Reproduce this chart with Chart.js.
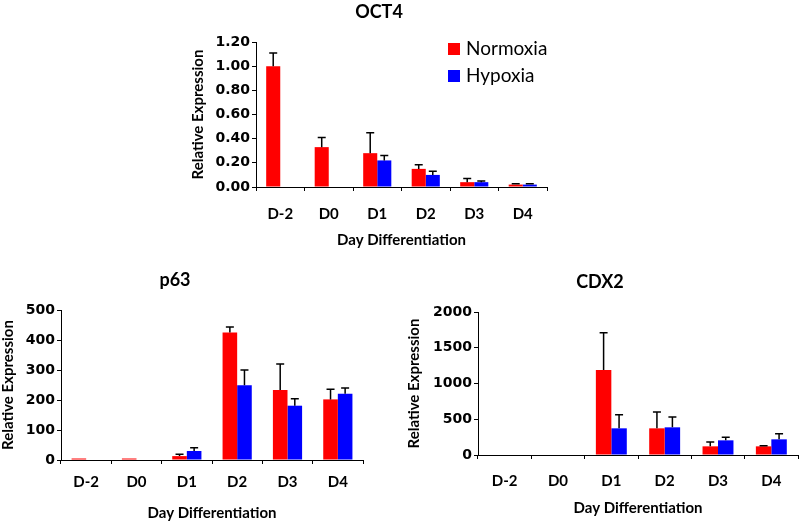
<!DOCTYPE html>
<html>
<head>
<meta charset="utf-8">
<script src="https://cdn.jsdelivr.net/npm/chart.js@4.4.1/dist/chart.umd.min.js"></script>
<style>
  html, body { margin: 0; padding: 0; background: #fff; overflow: hidden; }
  body { width: 800px; height: 522px; position: relative; }
  .box { position: absolute; }
</style>
</head>
<body>
<div class="box" id="oct4Box" style="left:180px; top:0px; width:380px; height:252px;"><canvas id="oct4Chart"></canvas></div>
<div class="box" id="p63Box" style="left:-13px; top:258px; width:380px; height:264px;"><canvas id="p63Chart"></canvas></div>
<div class="box" id="cdx2Box" style="left:402px; top:260px; width:398px; height:262px;"><canvas id="cdx2Chart"></canvas></div>
<script>
const days = ['D-2', 'D0', 'D1', 'D2', 'D3', 'D4'];

// OCT4 (mean and upper error)
const oct4Normoxia = [1.00, 0.33, 0.28, 0.15, 0.04, 0.02];
const oct4NormoxiaErr = [0.11, 0.08, 0.17, 0.035, 0.03, 0.006];
const oct4Hypoxia = [null, null, 0.22, 0.10, 0.04, 0.02];
const oct4HypoxiaErr = [null, null, 0.04, 0.03, 0.01, 0.006];
const oct4Ticks = [0, 0.2, 0.4, 0.6, 0.8, 1.0, 1.2];

// p63
const p63Normoxia = [5, 5, 13, 425, 233, 202];
const p63NormoxiaErr = [null, null, 6, 18, 87, 34];
const p63Hypoxia = [null, null, 30, 249, 181, 221];
const p63HypoxiaErr = [null, null, 11, 51, 23, 19];
const p63Ticks = [0, 100, 200, 300, 400, 500];

// CDX2
const cdx2Normoxia = [0, 0, 1190, 373, 121, 121];
const cdx2NormoxiaErr = [null, null, 520, 228, 61, 10];
const cdx2Hypoxia = [null, null, 373, 387, 205, 219];
const cdx2HypoxiaErr = [null, null, 191, 144, 42, 79];
const cdx2Ticks = [0, 500, 1000, 1500, 2000];

const RED = '#ff0000';
const BLUE = '#0000ff';

Chart.defaults.color = '#000';
Chart.defaults.font.family = 'Lato, "Open Sans", sans-serif';

// one-sided error bars with a small cap
const errorBars = {
    id: 'errorBars',
    afterDatasetsDraw(chart) {
        const { ctx } = chart;
        const yScale = chart.scales.y;
        chart.data.datasets.forEach((ds, i) => {
            if (!ds.errors) return;
            const meta = chart.getDatasetMeta(i);
            meta.data.forEach((bar, j) => {
                const v = ds.data[j];
                const e = ds.errors[j];
                if (v == null || e == null) return;
                const top = yScale.getPixelForValue(v + e);
                ctx.save();
                ctx.strokeStyle = '#000';
                ctx.lineWidth = 1.5;
                ctx.beginPath();
                ctx.moveTo(bar.x, bar.y);
                ctx.lineTo(bar.x, top);
                ctx.moveTo(bar.x - 4, top);
                ctx.lineTo(bar.x + 4, top);
                ctx.stroke();
                ctx.restore();
            });
        });
    }
};

// legend drawn inside the plot area (top right), like the original
const innerLegend = {
    id: 'innerLegend',
    afterDraw(chart, args, opts) {
        if (!opts.display) return;
        const { ctx, chartArea } = chart;
        const x0 = chartArea.right - 99;
        let y0 = chartArea.top + 1;
        ctx.save();
        ctx.font = '19px Lato, sans-serif';
        ctx.textBaseline = 'middle';
        ctx.textAlign = 'left';
        chart.data.datasets.forEach(ds => {
            ctx.fillStyle = ds.backgroundColor;
            ctx.fillRect(x0, y0, 12, 12);
            ctx.fillStyle = '#000';
            ctx.fillText(ds.label, x0 + 18, y0 + 6);
            y0 += 27;
        });
        ctx.restore();
    }
};

function makeChart(id, cfg) {
    const step = cfg.ticks[1] - cfg.ticks[0];
    return new Chart(document.getElementById(id), {
        type: 'bar',
        data: {
            labels: days,
            datasets: [
                { label: 'Normoxia', data: cfg.normoxia, errors: cfg.normoxiaErr, backgroundColor: RED },
                { label: 'Hypoxia', data: cfg.hypoxia, errors: cfg.hypoxiaErr, backgroundColor: BLUE }
            ]
        },
        options: {
            responsive: true,
            maintainAspectRatio: false,
            animation: false,
            categoryPercentage: 0.58,
            barPercentage: 1.0,
            layout: { padding: cfg.padding },
            plugins: {
                legend: { display: false },
                tooltip: { enabled: false },
                title: {
                    display: true,
                    text: cfg.title,
                    font: { size: 18, weight: 'bold' },
                    padding: cfg.titlePad
                },
                innerLegend: { display: !!cfg.legend }
            },
            scales: {
                x: {
                    grid: { drawOnChartArea: false, drawTicks: true, tickLength: 4, color: '#000' },
                    border: { color: '#000', width: 1 },
                    ticks: { font: { size: 15, weight: 'bold' }, padding: cfg.xTickPad, maxRotation: 0 },
                    title: {
                        display: true,
                        text: 'Day Differentiation',
                        font: { size: 15, weight: 'bold' },
                        padding: { top: 0, bottom: cfg.xTitlePad }
                    },
                    afterFit: (scale) => { scale.height = cfg.xHeight; }
                },
                y: {
                    min: cfg.ticks[0],
                    max: cfg.ticks[cfg.ticks.length - 1],
                    grid: { drawOnChartArea: false, drawTicks: true, tickLength: 4, color: '#000' },
                    border: { color: '#000', width: 1 },
                    ticks: {
                        stepSize: step,
                        padding: 2,
                        font: { family: '"DejaVu Sans", sans-serif', size: 14, weight: 'bold' },
                        callback: cfg.tickFormat
                    },
                    title: {
                        display: true,
                        text: 'Relative Expression',
                        font: { size: 15, weight: 'bold' },
                        padding: { top: cfg.yTitlePad, bottom: 0 }
                    },
                    afterFit: (scale) => { scale.width = cfg.yWidth; }
                }
            }
        },
        plugins: [errorBars, innerLegend]
    });
}

makeChart('oct4Chart', {
    title: 'OCT4',
    normoxia: oct4Normoxia, normoxiaErr: oct4NormoxiaErr,
    hypoxia: oct4Hypoxia, hypoxiaErr: oct4HypoxiaErr,
    ticks: oct4Ticks,
    tickFormat: (v) => Number(v).toFixed(2),
    legend: true,
    padding: { left: 31, right: 13, top: 0, bottom: 0 },
    titlePad: { top: 1.2, bottom: 19.2 },
    yWidth: 45, yTitlePad: -22,
    xHeight: 65, xTitlePad: 3, xTickPad: 14
});

makeChart('p63Chart', {
    title: 'p63',
    normoxia: p63Normoxia, normoxiaErr: p63NormoxiaErr,
    hypoxia: p63Hypoxia, hypoxiaErr: p63HypoxiaErr,
    ticks: p63Ticks,
    tickFormat: (v) => v,
    legend: false,
    padding: { left: 0, right: 4, top: 0, bottom: 0 },
    titlePad: { top: 11.2, bottom: 19.2 },
    yWidth: 74, yTitlePad: 12,
    xHeight: 62, xTitlePad: 0, xTickPad: 9
});

makeChart('cdx2Chart', {
    title: 'CDX2',
    normoxia: cdx2Normoxia, normoxiaErr: cdx2NormoxiaErr,
    hypoxia: cdx2Hypoxia, hypoxiaErr: cdx2HypoxiaErr,
    ticks: cdx2Ticks,
    tickFormat: (v) => v,
    legend: false,
    padding: { left: 0, right: 2, top: 0, bottom: 0 },
    titlePad: { top: 11.2, bottom: 19.2 },
    yWidth: 76, yTitlePad: 3,
    xHeight: 67, xTitlePad: 5, xTickPad: 13
});
</script>
</body>
</html>
